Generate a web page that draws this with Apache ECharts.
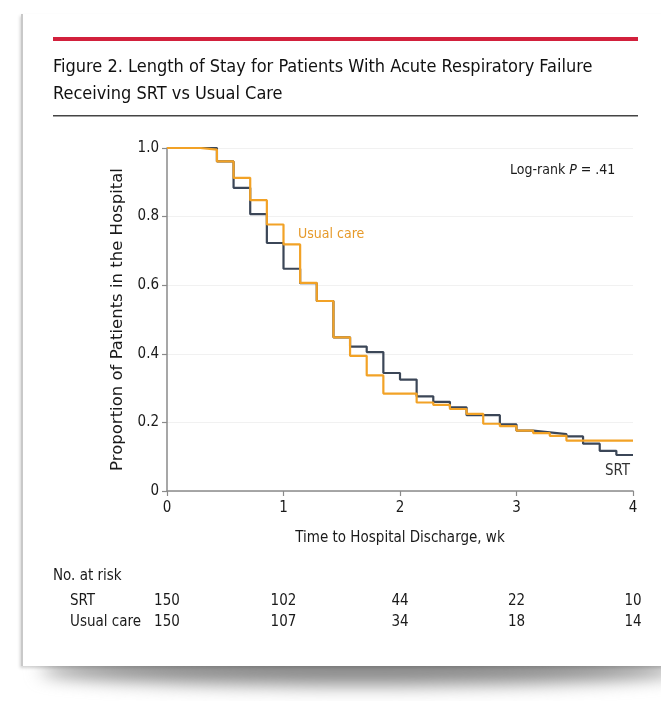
<!DOCTYPE html>
<html>
<head>
<meta charset="utf-8">
<script src="https://cdn.jsdelivr.net/npm/echarts@6/dist/echarts.min.js"></script>
<style>
  html, body { margin: 0; padding: 0; background: #ffffff; }
  #wrap { position: relative; width: 661px; height: 701px; overflow: hidden; background: #fff; }
  #shadow { position: absolute; left: 40px; top: 655px; width: 640px; height: 30px;
            background: #888; filter: blur(9px); border-radius: 50%; }
  #card { position: absolute; left: 21px; top: 14px; width: 700px; height: 652px; background: #fff;
          border-left: 2px solid #c9c9c9; box-shadow: -1px 2px 3px rgba(0,0,0,0.18); }
  #chart { position: absolute; left: 0; top: 0; width: 661px; height: 701px; }
</style>
</head>
<body>
<div id="wrap">
  <div id="shadow"></div>
  <div id="card"></div>
  <div id="chart"></div>
</div>
<script>
// ---- data (time in days; axis labelled in weeks) ----
const srtDays   = [0, 3, 4, 5, 6, 7, 8, 9, 10, 11, 12, 13, 14, 15, 16, 17, 18, 20, 21, 22, 23, 24, 25, 26, 27, 28];
const srtProp   = [1.0, 0.961, 0.884, 0.807, 0.723, 0.648, 0.606, 0.554, 0.448, 0.421, 0.405, 0.344, 0.325, 0.276, 0.260, 0.244, 0.221, 0.194, 0.176, 0.171, 0.166, 0.159, 0.138, 0.117, 0.105, 0.105];
const usualDays = [0, 2, 3, 4, 5, 6, 7, 8, 9, 10, 11, 12, 13, 15, 16, 17, 18, 19, 20, 21, 22, 23, 24, 28];
const usualProp = [1.0, 0.995, 0.961, 0.913, 0.848, 0.777, 0.719, 0.607, 0.554, 0.448, 0.394, 0.337, 0.284, 0.258, 0.251, 0.239, 0.225, 0.196, 0.189, 0.176, 0.169, 0.161, 0.147, 0.147];
const xTickLabels = ['0', '1', '2', '3', '4'];           // weeks
const yTickLabels = ['0', '0.2', '0.4', '0.6', '0.8', '1.0'];
const riskGroups  = ['SRT', 'Usual care'];
const riskDays    = [0, 7, 14, 21, 28];
const riskSRT     = [150, 102, 44, 22, 10];
const riskUsual   = [150, 107, 34, 18, 14];

const FONT = "'Liberation Sans Narrow', 'DejaVu Sans Condensed', 'Arial Narrow', sans-serif";
const WIDE = "'DejaVu Sans', sans-serif";
const DARK = '#3b4657';
const ORANGE = '#f2a226';

const srtData = srtDays.map((d, i) => [d, srtProp[i]]);
const usualData = usualDays.map((d, i) => [d, usualProp[i]]);
const riskData = [];
riskDays.forEach((d, i) => {
  riskData.push([d, riskGroups[0], riskSRT[i]]);
  riskData.push([d, riskGroups[1], riskUsual[i]]);
});

const chart = echarts.init(document.getElementById('chart'), null, { renderer: 'canvas' });
chart.setOption({
  backgroundColor: 'transparent',
  animation: false,
  textStyle: { fontFamily: FONT },
  grid: [
    { left: 167, right: 28, top: 148, height: 343 },
    { left: 167, right: 28, top: 591, height: 42 }
  ],
  xAxis: [
    {
      type: 'value', gridIndex: 0, min: 0, max: 28, interval: 7,
      name: 'Time to Hospital Discharge, wk', nameLocation: 'middle', nameGap: 40,
      nameTextStyle: { fontFamily: FONT, fontSize: 15, color: '#1a1a1a' },
      axisLine: { show: true, lineStyle: { color: '#8a8a8a', width: 1.5 } },
      axisTick: { show: true, length: 5, lineStyle: { color: '#8a8a8a', width: 1.2 } },
      axisLabel: { margin: 10, fontFamily: FONT, fontSize: 15, color: '#1a1a1a',
                   formatter: v => xTickLabels[Math.round(v / 7)] },
      splitLine: { show: false }
    },
    {
      type: 'value', gridIndex: 1, min: 0, max: 28, show: false
    }
  ],
  yAxis: [
    {
      type: 'value', gridIndex: 0, min: 0, max: 1, interval: 0.2,
      name: 'Proportion of Patients in the Hospital', nameLocation: 'middle', nameGap: 40,
      nameTextStyle: { fontFamily: WIDE, fontSize: 16.5, color: '#1a1a1a' },
      axisLine: { show: true, lineStyle: { color: '#8a8a8a', width: 1.5 } },
      axisTick: { show: true, length: 5, lineStyle: { color: '#8a8a8a', width: 1.2 } },
      axisLabel: { margin: 8, fontFamily: FONT, fontSize: 15, color: '#1a1a1a',
                   formatter: v => yTickLabels[Math.round(v / 0.2)] },
      splitLine: { show: true, lineStyle: { color: '#f1f1f1', width: 1 } }
    },
    {
      type: 'category', gridIndex: 1, data: riskGroups, inverse: true,
      axisLine: { show: false }, axisTick: { show: false }, splitLine: { show: false },
      axisLabel: { show: true, align: 'left', margin: 97, fontFamily: FONT, fontSize: 15, color: '#1a1a1a' }
    }
  ],
  series: [
    {
      name: 'SRT', type: 'line', step: 'end', xAxisIndex: 0, yAxisIndex: 0,
      data: srtData, showSymbol: false, symbol: 'none',
      lineStyle: { color: DARK, width: 2.2 }, z: 3
    },
    {
      name: 'Usual care', type: 'line', step: 'end', xAxisIndex: 0, yAxisIndex: 0,
      data: usualData, showSymbol: false, symbol: 'none',
      lineStyle: { color: ORANGE, width: 2.2 }, z: 4
    },
    {
      name: 'No. at risk', type: 'scatter', xAxisIndex: 1, yAxisIndex: 1,
      data: riskData, symbolSize: 1, itemStyle: { color: '#ffffff', opacity: 1 },
      label: { show: true, position: 'inside', fontFamily: FONT, fontSize: 15, color: '#1a1a1a',
               textBorderWidth: 0, formatter: p => String(p.value[2]) }
    }
  ],
  graphic: [
    { type: 'rect', shape: { x: 53, y: 37, width: 585, height: 4 }, style: { fill: '#d2203c' } },
    { type: 'rect', shape: { x: 53, y: 115, width: 585, height: 1.6 }, style: { fill: '#444' } },
    { type: 'text', left: 53, top: 54, style: {
        text: 'Figure 2. Length of Stay for Patients With Acute Respiratory Failure\nReceiving SRT vs Usual Care',
        font: "18px " + FONT, fill: '#111', lineHeight: 27 } },
    { type: 'text', left: 510, top: 163, style: {
        text: '{a|Log-rank }{b|P}{a| = .41}',
        rich: { a: { font: "14px " + FONT, fill: '#1a1a1a' }, b: { font: "italic 14px " + FONT, fill: '#1a1a1a' } } } },
    { type: 'text', left: 298, top: 227, style: { text: 'Usual care', font: "14px " + FONT, fill: '#e69a2a' } },
    { type: 'text', left: 605, top: 464, style: { text: 'SRT', font: "15px " + FONT, fill: '#333' } },
    { type: 'text', left: 53, top: 569, style: { text: 'No. at risk', font: "15px " + FONT, fill: '#1a1a1a' } }
  ]
});
</script>
</body>
</html>
